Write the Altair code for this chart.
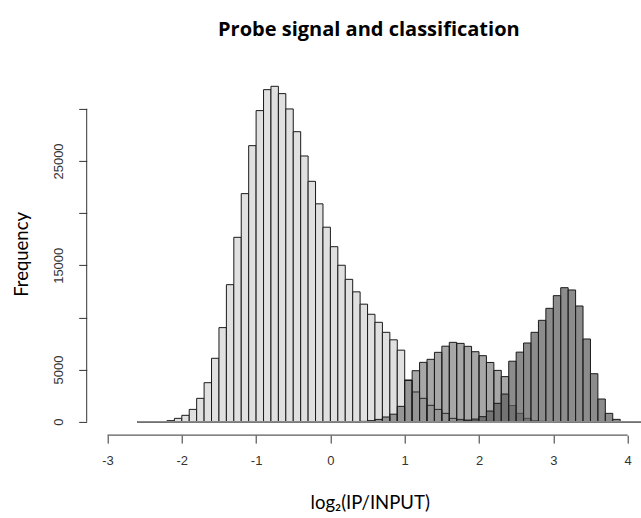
import altair as alt
import pandas as pd

# Histogram breaks (equal-width bins)
BIN_START = -2.6
BIN_WIDTH = 0.1

# Counts per bin (bins from -2.6 in steps of 0.1)
light = [0, 0, 0, 0,
         100, 320, 610, 1180, 2240, 3740, 6080, 9020, 13140, 17680,
         21870, 26470, 29830, 31840, 32160, 31460, 29990, 27810, 25480, 23050,
         20890, 18650, 16780, 15000, 13650, 12450, 11270, 10300, 9530, 8570,
         7850, 6860, 4000, 2850, 2240, 1570, 1180, 800, 320, 220,
         160, 100, 60, 40, 30, 20, 15, 10, 5, 0,
         0, 0, 0, 0, 0, 0, 0, 0, 0, 0, 0, 0, 0, 0, 0]
medium = [0, 0, 0, 0, 0, 0, 0, 0, 0, 0,
          0, 0, 0, 0, 0, 0, 0, 0, 0, 0,
          0, 0, 0, 0, 0, 0, 0, 0, 0, 0,
          30, 100, 220, 450, 720, 1470, 3950, 4890, 5690, 5980,
          6650, 7240, 7610, 7510, 7225, 6710, 6330, 5680, 4920, 4320,
          1550, 800, 320, 100, 40, 20, 10, 0, 0, 0,
          0, 0, 0, 0, 0, 0, 0, 0, 0]
dark = [0, 0, 0, 0, 0, 0, 0, 0, 0, 0,
        0, 0, 0, 0, 0, 0, 0, 0, 0, 0,
        0, 0, 0, 0, 0, 0, 0, 0, 0, 0,
        0, 0, 0, 0, 0, 0, 0, 0, 0, 0,
        0, 0,
        20, 40, 90, 250, 480, 1020, 1760, 2650, 5800, 6670,
        7545, 8570, 9720, 10870, 12085, 12850, 12630, 11095, 7930, 4600,
        2175, 800, 224, 0, 0, 0, 0]

x_ticks = [-3, -2, -1, 0, 1, 2, 3, 4]
y_ticks = [0, 5000, 10000, 15000, 20000, 25000, 30000]

X_DOMAIN = [-3.28, 4.1803]
Y_DOMAIN = [-1286, 33446]

W = 554.3
H = 362.2


def layer_df(counts):
    left = [round(BIN_START + i * BIN_WIDTH, 2) for i in range(len(counts))]
    right = [round(v + BIN_WIDTH, 2) for v in left]
    return pd.DataFrame({"x0": left, "x1": right, "count": counts,
                         "base": [0] * len(counts)})


xs = alt.Scale(domain=X_DOMAIN, nice=False, zero=False)
ys = alt.Scale(domain=Y_DOMAIN, nice=False, zero=False)

xaxis = alt.Axis(values=x_ticks, domain=False, grid=False, tickSize=8,
                 tickColor="#333333", tickWidth=1,
                 labelExpr="'' + datum.value",
                 labelFont="Liberation Sans", labelFontSize=13,
                 labelColor="#333333", labelPadding=11, labelFlush=False,
                 labelOverlap=False,
                 title="log₂(IP/INPUT)", titleFont="Lato", titleFontSize=18.5,
                 titleFontWeight="normal", titleColor="#000000",
                 titleX=283, titleY=67, titleAlign="center",
                 titleBaseline="middle")

yaxis = alt.Axis(values=y_ticks, format="d",
                 labelExpr="(datum.value % 10000 == 0 && datum.value > 0) ? '' : datum.label",
                 domain=False, grid=False, tickSize=8, tickColor="#333333",
                 tickWidth=1, labelAngle=270, labelAlign="center",
                 labelBaseline="bottom", labelPadding=13,
                 labelFont="Liberation Sans", labelFontSize=13,
                 labelColor="#333333", labelOverlap=False,
                 title="Frequency", titleFont="Lato", titleFontSize=18.5,
                 titleFontWeight="normal", titleColor="#000000",
                 titleAngle=270, titleX=-65, titleY=181,
                 titleAlign="center", titleBaseline="middle")


def bars(counts, fill, op):
    return alt.Chart(layer_df(counts)).mark_rect(
        clip=True, fill=fill, fillOpacity=op, stroke="#1a1a1a",
        strokeWidth=1
    ).encode(
        x=alt.X("x0:Q", scale=xs, axis=xaxis),
        x2="x1:Q",
        y=alt.Y("count:Q", scale=ys, axis=yaxis),
        y2="base:Q",
    )


light_layer = bars(light, "#E0E0E0", 1.0)
medium_layer = bars(medium, "#3B3B3B", 0.45)
dark_layer = bars(dark, "#606060", 0.72)

# zero line of the histograms (drawn grey, as in the reference)
base_df = pd.DataFrame({
    "x0": [BIN_START],
    "x1": [round(BIN_START + len(light) * BIN_WIDTH, 2)],
    "count": [0],
})
baseline = alt.Chart(base_df).mark_rule(
    clip=True, color="#8a8a8a", strokeWidth=1.6
).encode(
    x=alt.X("x0:Q", scale=xs, axis=xaxis),
    x2="x1:Q",
    y=alt.Y("count:Q", scale=ys, axis=yaxis),
)

xline = alt.Chart(pd.DataFrame({"x0": [x_ticks[0]], "x1": [x_ticks[-1]]})).mark_rule(
    color="#333333", strokeWidth=1
).encode(
    x=alt.X("x0:Q", scale=xs, axis=xaxis),
    x2="x1:Q",
    y=alt.value(H),
)

yline = alt.Chart(pd.DataFrame({"count": [y_ticks[0]], "top": [y_ticks[-1]]})).mark_rule(
    color="#333333", strokeWidth=1
).encode(
    y=alt.Y("count:Q", scale=ys, axis=yaxis),
    y2="top:Q",
    x=alt.value(0),
)

chart = alt.layer(light_layer, medium_layer, dark_layer, baseline, xline, yline).properties(
    width=W,
    height=H,
    title=alt.Title("Probe signal and classification", font="Open Sans",
                    fontSize=20, fontWeight="bold", color="#000000",
                    anchor="middle", dx=5, offset=33),
    autosize=alt.AutoSizeParams(type="none"),
    padding={"left": 86.7, "top": 72.9, "right": 0, "bottom": 82.9},
).configure_view(strokeWidth=0)

chart.save("out.html", embed_options={"renderer": "svg", "actions": False})
